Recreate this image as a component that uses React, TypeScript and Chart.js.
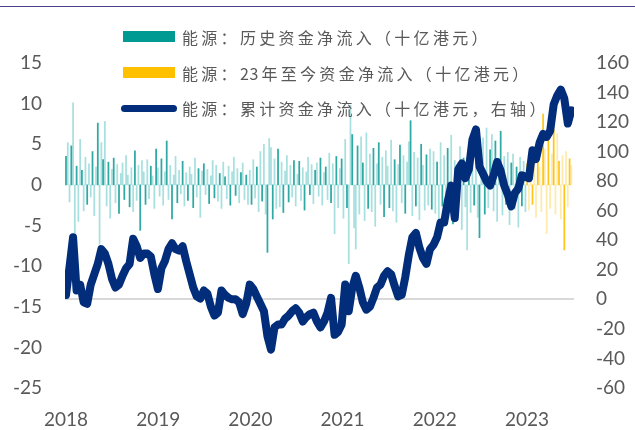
import React, { useEffect, useRef } from "react";
import { Chart, registerables } from "chart.js";

Chart.register(...registerables);

// Year ticks on the time axis
const yearLabels = [2018, 2019, 2020, 2021, 2022, 2023];

// Weekly net inflow, 2018–2022 (HKD bn)
const histFlow = [
  // 2018
  3.5, 5.2, -2.1, 4.8, 10.1, -6.2, 2.3, -4.5, 5.6, 1.8, -3.2, 3.4, -2.4, 2.6, -1.5, 4.1, -3.8, 2.2, 7.6, -7.3,
  5.2, 3.1, 7.8, -2.6, 2.8, -4.1, 1.9, 3.3, -2.2, 2.5, -3.5, 1.4, 2.7, -1.8, 3.6, 1.2, -2.7, 2.1, -3.3, 4.2,
  -1.9, 2.4, -5.6, 3.0, 1.6, -2.4, 3.1, -1.7, 2.3, 1.1, -2.9, 4.4,
  // 2019
  2.1, -1.4, 3.2, -2.5, 1.6, 5.4, -1.8, 2.4, -4.2, 1.2, 3.5, -2.2, 1.8, -1.1, 2.9, -2.6, 1.5, -1.9, 2.2, 1.3,
  -2.8, 3.3, -1.5, 2.0, -4.0, 1.7, 2.6, -1.2, 1.9, -2.3, 1.1, 3.0, -1.6, 2.4, -2.0, 1.4, -2.9, 2.8, 1.0, -1.7,
  2.3, -2.5, 1.6, 3.4, -1.3, 2.0, -2.2, 1.5, 2.7, -1.8, 1.2, -2.4,
  // 2020
  1.8, -2.4, 3.1, -1.6, 2.2, -3.3, 4.1, -2.0, 5.0, -3.6, -8.3, 5.7, 4.6, -4.2, 3.2, -2.9, 4.4, -2.7, 2.8, -3.4,
  1.7, 3.6, -2.1, 2.4, -1.5, 3.0, -2.6, 1.3, 2.9, -1.9, 2.1, -3.1, 1.6, 3.4, -1.2, 2.5, -2.3, 1.8, 2.7, -1.4,
  3.3, -2.5, 1.5, 2.2, -1.8, 3.9, -2.2, 2.6, -6.0, 3.5, -2.8, 2.0,
  // 2021
  3.2, -4.1, 5.6, -2.8, -9.7, 9.8, 6.2, -5.3, -7.9, 4.8, -3.6, 5.9, 2.7, -4.4, 6.4, -2.9, 3.8, -3.3, 4.5, -5.1,
  2.6, 5.2, -2.4, 3.4, -3.9, 4.2, 2.3, -2.8, 5.5, -3.2, 3.1, -4.6, 2.5, 4.9, -2.2, 3.6, -3.5, 2.8, 5.3, 7.9,
  -3.8, 4.0, -2.6, 3.3, -4.3, 5.0, 2.4, -3.1, 3.7, -2.5, 4.4, -3.0,
  // 2022
  4.1, -3.5, 2.8, -4.4, 5.2, -2.6, 3.6, -3.9, 4.5, -2.2, 6.1, -4.8, 3.0, -3.1, 2.4, 4.7, -5.5, 3.3, -2.7, -8.0,
  3.9, -3.4, 4.8, -2.5, 3.1, -4.0, -6.5, 2.9, 5.8, -3.6, 7.0, -2.8, 4.3, 6.2, -3.2, 5.4, -4.5, 2.6, 6.6, -3.7,
  3.5, -2.4, 4.0, -4.9, 2.7, 3.8, -3.0, 2.2, -5.2, 3.4, -2.6, 2.9, -3.3,
];

// Weekly net inflow, 2023 year to date (HKD bn)
const ytdFlow = [
  2.6, -3.1, 4.2, -2.4, 3.5, -4.0, 5.1, 2.2, -3.3, 8.7, 4.4, -6.0, 5.6, -2.9, 3.8, 6.8, -3.6, 6.3, 2.9, -4.2,
  3.6, -8.0, 4.1, -2.7, 3.2, 2.4,
];

// Cumulative net inflow, sampled every two weeks (HKD bn, right axis)
const cumFlow = [
  3, 22, 42, 6, 10, -2, -3, 10, 17, 24,
  34, 31, 24, 14, 8, 10, 16, 21, 24, 41,
  36, 28, 31, 31, 29, 17, 7, 21, 26, 34,
  38, 34, 33, 36, 26, 17, 8, 2, 0.5, 6,
  4, -5, -11, -9, 6, 3, 1, 0, 0, -2,
  -10, -3, 10, 7, 2, -3, -8, -25, -34, -19,
  -17, -17, -13, -11, -8, -6, -9, -15, -12, -10,
  -9, -15, -19, -15, -9, 1, -24, -22, -17, 10,
  -8, 8, 16, 8, -2, -7, -5, 1, 8, 10,
  16, 19, 17, 9, 2, 3, 15, 30, 42, 45,
  35, 28, 24, 34, 37, 42, 52, 52, 66, 77,
  55, 88, 92, 82, 88, 108, 115, 90, 85, 80,
  77, 84, 93, 87, 77, 71, 63, 72, 75, 84,
  83, 82, 101, 95, 106, 112, 110, 114, 132, 138,
  142, 136, 119, 128,
];

const legendLabels = [
  "能源：历史资金净流入（十亿港元）",
  "能源：23年至今资金净流入（十亿港元）",
  "能源：累计资金净流入（十亿港元，右轴）",
];

const START_YEAR = 2018;
const WEEK = 7 / 365.25;

const TEAL = "#009A93";
const GOLD = "#FFC000";
const NAVY = "#022D7A";
const AXIS_TEXT = "#595959";
const tickFont = { family: "Lato, 'Liberation Sans', sans-serif", size: 19 };

// Wide tracking for the CJK glyphs, tight tracking for Latin digits
function LegendText({ text }: { text: string }) {
  const parts = text.split(/(\d+)/).filter((p) => p.length > 0);
  return (
    <>
      {parts.map((p, i) =>
        /^\d+$/.test(p) ? (
          <span key={i} style={{ letterSpacing: "0.6px", marginRight: 2.6 }}>
            {p}
          </span>
        ) : (
          <span key={i}>{p}</span>
        )
      )}
    </>
  );
}

export default function App() {
  const canvasRef = useRef<HTMLCanvasElement | null>(null);

  useEffect(() => {
    const canvas = canvasRef.current;
    if (!canvas) return;

    const histPoints = histFlow.map((v, i) => ({ x: START_YEAR + i * WEEK, y: v }));
    const ytdPoints = ytdFlow.map((v, i) => ({ x: START_YEAR + (histFlow.length + i) * WEEK, y: v }));
    const cumPoints = cumFlow.map((v, k) => ({ x: START_YEAR + 2 * k * WEEK, y: v }));

    const chart = new Chart(canvas, {
      type: "bar",
      data: {
        datasets: [
          {
            type: "line",
            label: legendLabels[2],
            data: cumPoints,
            yAxisID: "y2",
            borderColor: NAVY,
            borderWidth: 8,
            borderJoinStyle: "round",
            borderCapStyle: "round",
            pointRadius: 0,
            tension: 0,
            order: 0,
          } as any,
          {
            type: "bar",
            label: legendLabels[0],
            data: histPoints,
            yAxisID: "y",
            backgroundColor: (ctx: any) =>
              ctx.dataIndex % 3 === 0 ? "rgba(0,150,143,0.82)" : "rgba(0,165,160,0.34)",
            borderWidth: 0,
            barThickness: 1.1,
            grouped: false,
            order: 1,
          } as any,
          {
            type: "bar",
            label: legendLabels[1],
            data: ytdPoints,
            yAxisID: "y",
            backgroundColor: (ctx: any) =>
              ctx.dataIndex % 3 === 0 ? "rgba(255,192,0,0.9)" : "rgba(255,200,40,0.38)",
            borderWidth: 0,
            barThickness: 1.1,
            grouped: false,
            order: 2,
          } as any,
        ],
      },
      options: {
        animation: false,
        responsive: true,
        maintainAspectRatio: false,
        layout: { padding: { top: 63, right: 0, bottom: 0, left: 0 } },
        plugins: {
          legend: { display: false },
          tooltip: { enabled: false },
        },
        scales: {
          x: {
            type: "linear",
            position: "bottom",
            min: START_YEAR - 1 / 92.2,
            max: START_YEAR - 1 / 92.2 + 509 / 92.2,
            offset: false,
            afterBuildTicks: (axis: any) => {
              axis.ticks = yearLabels.map((y) => ({ value: y }));
            },
            afterFit: (axis: any) => {
              axis.height = 42;
            },
            ticks: {
              autoSkip: false,
              maxRotation: 0,
              padding: 20,
              color: AXIS_TEXT,
              font: tickFont,
              callback: (v: any) => String(v),
            },
            grid: { display: false, drawTicks: false, offset: false },
            border: { display: false },
          },
          y: {
            position: "left",
            min: -25,
            max: 15,
            afterFit: (axis: any) => {
              axis.width = 65;
            },
            ticks: { stepSize: 5, padding: 23, color: AXIS_TEXT, font: tickFont },
            grid: { display: false, drawTicks: false },
            border: { display: false },
          },
          y2: {
            position: "right",
            min: -60,
            max: 160,
            afterFit: (axis: any) => {
              axis.width = 61;
            },
            ticks: { stepSize: 20, padding: 22, color: AXIS_TEXT, font: tickFont },
            grid: {
              drawOnChartArea: true,
              drawTicks: false,
              lineWidth: 2,
              color: (ctx: any) =>
                ctx.tick && ctx.tick.value === 0 ? "#D9D9D9" : "rgba(0,0,0,0)",
            },
            border: { display: false },
          },
        },
      } as any,
    });

    return () => chart.destroy();
  }, []);

  const rowCenters = [36.5, 72.5, 107.5];
  const textStyle: React.CSSProperties = {
    position: "absolute",
    left: 182,
    height: 20,
    lineHeight: "20px",
    fontSize: 16,
    letterSpacing: "3.3px",
    color: AXIS_TEXT,
    fontFamily: "'Noto Sans CJK SC', sans-serif",
    whiteSpace: "nowrap",
  };

  return (
    <div
      style={{
        position: "absolute",
        left: 0,
        top: 0,
        width: 635,
        height: 430,
        background: "#ffffff",
        overflow: "hidden",
      }}
    >
      <div style={{ position: "absolute", left: 0, top: 5.5, width: 635, height: 1.3, background: "#4B3F8C" }} />
      <div style={{ position: "absolute", left: 0, top: 0, width: 635, height: 430 }}>
        <canvas ref={canvasRef} />
      </div>
      <div style={{ position: "absolute", left: 0, top: 0, width: 635, height: 430, pointerEvents: "none" }}>
        <div style={{ position: "absolute", left: 123, top: rowCenters[0] - 5.5, width: 52, height: 11, background: TEAL }} />
        <div style={{ ...textStyle, top: rowCenters[0] - 10 }}>
          <LegendText text={legendLabels[0]} />
        </div>
        <div style={{ position: "absolute", left: 123, top: rowCenters[1] - 5.5, width: 52, height: 11, background: GOLD }} />
        <div style={{ ...textStyle, top: rowCenters[1] - 10 }}>
          <LegendText text={legendLabels[1]} />
        </div>
        <div
          style={{
            position: "absolute",
            left: 121,
            top: rowCenters[2] + 1.3 - 3.5,
            width: 56,
            height: 7,
            borderRadius: 3.5,
            background: NAVY,
          }}
        />
        <div style={{ ...textStyle, top: rowCenters[2] - 10 }}>
          <LegendText text={legendLabels[2]} />
        </div>
      </div>
    </div>
  );
}
